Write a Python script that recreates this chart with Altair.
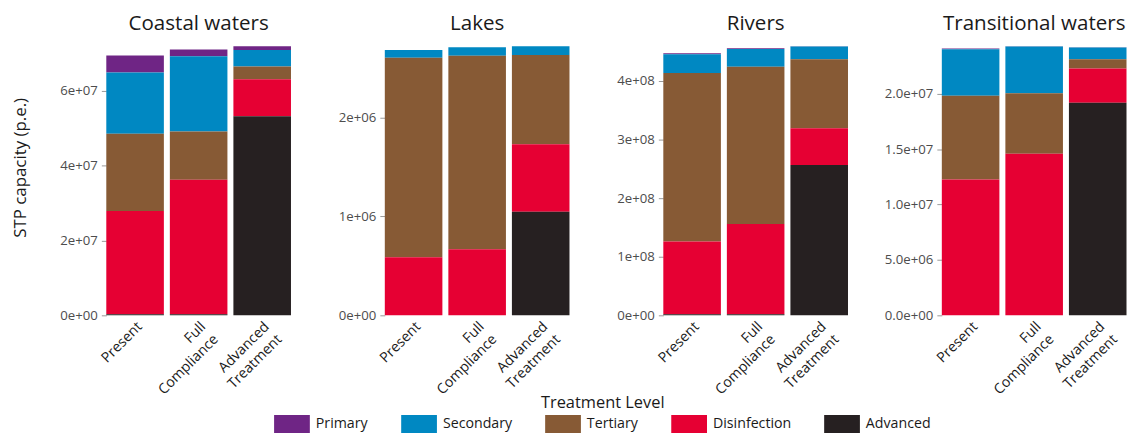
import altair as alt
import pandas as pd

regions = ["Coastal waters", "Lakes", "Rivers", "Transitional waters"]
scenarios = ["Present", "Full Compliance", "Advanced Treatment"]
levels = ["Primary", "Secondary", "Tertiary", "Disinfection", "Advanced"]
level_colors = ["#6F2585", "#0088C2", "#875A35", "#E60033", "#262021"]
stack_rank = [4, 3, 2, 1, 0]  # Advanced at bottom, Primary on top

# values per scenario (Present, Full Compliance, Advanced Treatment), in p.e.
coastal_primary = [4.5e6, 1.8e6, 1.0e6]
coastal_secondary = [16.4e6, 20.1e6, 4.4e6]
coastal_tertiary = [20.6e6, 12.9e6, 3.4e6]
coastal_disinfection = [27.6e6, 35.9e6, 9.9e6]
coastal_advanced = [0.3e6, 0.3e6, 53.2e6]

lakes_primary = [0.0, 0.0, 0.0]
lakes_secondary = [0.080e6, 0.087e6, 0.088e6]
lakes_tertiary = [2.014e6, 1.953e6, 0.902e6]
lakes_disinfection = [0.586e6, 0.667e6, 0.681e6]
lakes_advanced = [0.0, 0.0, 1.046e6]

rivers_primary = [1.8e6, 1.0e6, 0.5e6]
rivers_secondary = [32.0e6, 30.3e6, 21.8e6]
rivers_tertiary = [287.5e6, 268.5e6, 117.6e6]
rivers_disinfection = [124.0e6, 154.0e6, 62.9e6]
rivers_advanced = [2.0e6, 2.0e6, 256.5e6]

trans_primary = [0.06e6, 0.02e6, 0.02e6]
trans_secondary = [4.22e6, 4.23e6, 1.06e6]
trans_tertiary = [7.55e6, 5.45e6, 0.84e6]
trans_disinfection = [12.27e6, 14.60e6, 3.10e6]
trans_advanced = [0.0, 0.0, 19.19e6]

coastal_ticks = [0, 2e7, 4e7, 6e7]
coastal_tick_labels = ["0e+00", "2e+07", "4e+07", "6e+07"]
lakes_ticks = [0, 1e6, 2e6]
lakes_tick_labels = ["0e+00", "1e+06", "2e+06"]
rivers_ticks = [0, 1e8, 2e8, 3e8, 4e8]
rivers_tick_labels = ["0e+00", "1e+08", "2e+08", "3e+08", "4e+08"]
trans_ticks = [0, 5e6, 1e7, 1.5e7, 2e7]
trans_tick_labels = ["0.0e+00", "5.0e+06", "1.0e+07", "1.5e+07", "2.0e+07"]

panel_series = {
    "Coastal waters": [coastal_primary, coastal_secondary, coastal_tertiary, coastal_disinfection, coastal_advanced],
    "Lakes": [lakes_primary, lakes_secondary, lakes_tertiary, lakes_disinfection, lakes_advanced],
    "Rivers": [rivers_primary, rivers_secondary, rivers_tertiary, rivers_disinfection, rivers_advanced],
    "Transitional waters": [trans_primary, trans_secondary, trans_tertiary, trans_disinfection, trans_advanced],
}
panel_ticks = {
    "Coastal waters": (coastal_ticks, coastal_tick_labels),
    "Lakes": (lakes_ticks, lakes_tick_labels),
    "Rivers": (rivers_ticks, rivers_tick_labels),
    "Transitional waters": (trans_ticks, trans_tick_labels),
}

FONT = "Open Sans"
PANEL_W = 186
PANEL_H = 271


def label_expr(vals, labs):
    expr = "''"
    for v, l in reversed(list(zip(vals, labs))):
        expr = f"datum.value == {float(v)!r} ? '{l}' : ({expr})"
    return expr


legend = alt.Legend(
    title="Treatment Level",
    orient="none",
    legendX=169,
    legendY=351,
    direction="horizontal",
    columns=5,
    titleAnchor="middle",
    titleFont=FONT,
    titleFontSize=16.5,
    titleFontWeight="normal",
    titleColor="#1a1a1a",
    titlePadding=4,
    labelFont=FONT,
    labelFontSize=14.3,
    labelColor="#1a1a1a",
    labelOffset=24,
    columnPadding=33,
    symbolType="M-1,-1L3,-1L3,1L-1,1Z",
    symbolSize=324,
    symbolStrokeWidth=0,
    symbolOpacity=1,
)


def panel(region, first):
    rows = []
    for lvl, rank, series in zip(levels, stack_rank, panel_series[region]):
        for sc, v in zip(scenarios, series):
            rows.append({"scenario": sc, "level": lvl, "rank": rank, "value": v})
    df = pd.DataFrame(rows)
    ticks, labs = panel_ticks[region]
    yaxis_kwargs = dict(
        values=ticks,
        labelExpr=label_expr(ticks, labs),
        domain=False,
        grid=False,
        tickColor="#999999",
        tickSize=5,
        labelPadding=4,
        labelFont=FONT,
        labelFontSize=13.3,
        labelColor="#4d4d4d",
    )
    if first:
        yaxis_kwargs.update(
            title="STP capacity (p.e.)",
            titleFont=FONT,
            titleFontSize=17,
            titleFontWeight="normal",
            titleColor="#1a1a1a",
            titlePadding=30,
            titleY=122,
        )
    else:
        yaxis_kwargs.update(title=None)
    return (
        alt.Chart(df)
        .mark_bar()
        .encode(
            x=alt.X(
                "scenario:N",
                sort=scenarios,
                title=None,
                scale=alt.Scale(paddingInner=0.094, paddingOuter=0),
                axis=alt.Axis(
                    labelAngle=-45,
                    labelAlign="right",
                    labelBaseline="top",
                    labelExpr="split(datum.label, ' ')",
                    labelLineHeight=18,
                    labelFont=FONT,
                    labelFontSize=14.3,
                    labelColor="#1a1a1a",
                    labelPadding=4,
                    ticks=False,
                    domain=False,
                    grid=False,
                ),
            ),
            y=alt.Y(
                "value:Q",
                stack="zero",
                scale=alt.Scale(nice=False, zero=True),
                axis=alt.Axis(**yaxis_kwargs),
            ),
            color=alt.Color(
                "level:N",
                scale=alt.Scale(domain=levels, range=level_colors),
                legend=legend,
            ),
            order=alt.Order("rank:Q", sort="ascending"),
        )
        .properties(
            width=PANEL_W,
            height=PANEL_H,
            title=alt.TitleParams(
                text=region,
                anchor="middle",
                font=FONT,
                fontSize=20.7,
                fontWeight="normal",
                color="#1a1a1a",
                offset=12,
            ),
        )
    )


chart = (
    alt.hconcat(*[panel(r, i == 0) for i, r in enumerate(regions)], spacing=94.5, bounds="flush")
    .properties(padding={"left": 4, "top": 3, "right": 0, "bottom": 0}, background="white")
    .configure_view(strokeWidth=0)
)

chart.save("out.html", embed_options={"renderer": "svg", "actions": False})
